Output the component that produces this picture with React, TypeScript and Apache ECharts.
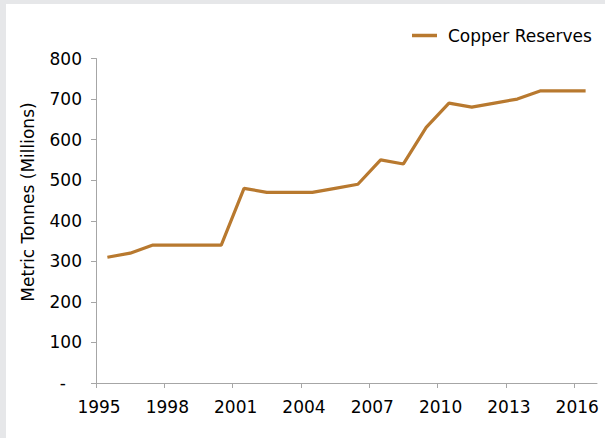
import React, { useEffect, useRef } from "react";
import * as echarts from "echarts";

const years = [
  "1995", "1996", "1997", "1998", "1999", "2000", "2001", "2002", "2003", "2004", "2005",
  "2006", "2007", "2008", "2009", "2010", "2011", "2012", "2013", "2014", "2015", "2016",
];
const copperReserves = [
  310, 320, 340, 340, 340, 340, 480, 470, 470, 470, 480,
  490, 550, 540, 630, 690, 680, 690, 700, 720, 720, 720,
];
const tickIndices = [0, 3, 6, 9, 12, 15, 18, 21];
const seriesName = "Copper Reserves";
const yAxisTitle = "Metric Tonnes (Millions)";

const FONT = "DejaVu Sans";
const LINE_COLOR = "#b8792f";
const AXIS_COLOR = "#a6a6a6";

export default function App() {
  const ref = useRef<HTMLDivElement>(null);

  useEffect(() => {
    if (!ref.current) return;
    const chart = echarts.init(ref.current, undefined, { renderer: "svg" });
    chart.setOption({
      animation: false,
      backgroundColor: "transparent",
      grid: { left: 90, right: 8, top: 54.5, bottom: 55, containLabel: false },
      legend: {
        data: [seriesName],
        left: 401,
        top: 18,
        icon: "rect",
        itemWidth: 25,
        itemHeight: 3.5,
        textStyle: { fontFamily: FONT, fontSize: 17, color: "#000", padding: [0, 0, 0, 6] },
      },
      xAxis: [
        {
          type: "category",
          data: years,
          boundaryGap: true,
          show: false,
          position: "bottom",
        },
        {
          type: "value",
          min: 0,
          max: years.length,
          position: "bottom",
          axisLine: { show: true, lineStyle: { color: AXIS_COLOR, width: 1 } },
          axisTick: {
            show: true,
            customValues: tickIndices,
            length: 5,
            lineStyle: { color: AXIS_COLOR },
          },
          axisLabel: {
            customValues: tickIndices,
            formatter: (v: number) => years[Math.round(v)] ?? "",
            margin: 15,
            fontFamily: FONT,
            fontSize: 17,
            color: "#000",
            padding: [0, 0, 0, 6],
          },
          splitLine: { show: false },
        },
      ],
      yAxis: {
        type: "value",
        min: 0,
        max: 800,
        interval: 100,
        axisLine: { show: true, lineStyle: { color: AXIS_COLOR, width: 1 } },
        axisTick: { show: true, length: 5, lineStyle: { color: AXIS_COLOR } },
        splitLine: { show: false },
        axisLabel: {
          margin: 14,
          fontFamily: FONT,
          fontSize: 17,
          color: "#000",
          formatter: (v: number) => (v === 0 ? "{d|-}" : String(v)),
          rich: {
            d: { fontFamily: FONT, fontSize: 17, color: "#000", padding: [0, 16, 0, 0] },
          },
        },
      },
      graphic: [
        {
          type: "text",
          x: 22,
          y: 198,
          rotation: Math.PI / 2,
          style: {
            text: yAxisTitle,
            fontFamily: FONT,
            fontSize: 17,
            fill: "#000",
            align: "center",
            verticalAlign: "middle",
          },
        },
      ],
      series: [
        {
          name: seriesName,
          type: "line",
          xAxisIndex: 0,
          data: copperReserves,
          showSymbol: false,
          symbol: "none",
          lineStyle: { color: LINE_COLOR, width: 3.2 },
          itemStyle: { color: LINE_COLOR },
        },
      ],
    });
    return () => chart.dispose();
  }, []);

  return (
    <div
      style={{
        position: "fixed",
        left: 0,
        top: 0,
        width: 605,
        height: 438,
        background: "#e6e7e9",
      }}
    >
      <div
        style={{
          position: "absolute",
          left: 6,
          top: 4,
          width: 599,
          height: 434,
          background: "#ffffff",
        }}
      >
        <div ref={ref} style={{ width: 599, height: 434 }} />
      </div>
    </div>
  );
}
